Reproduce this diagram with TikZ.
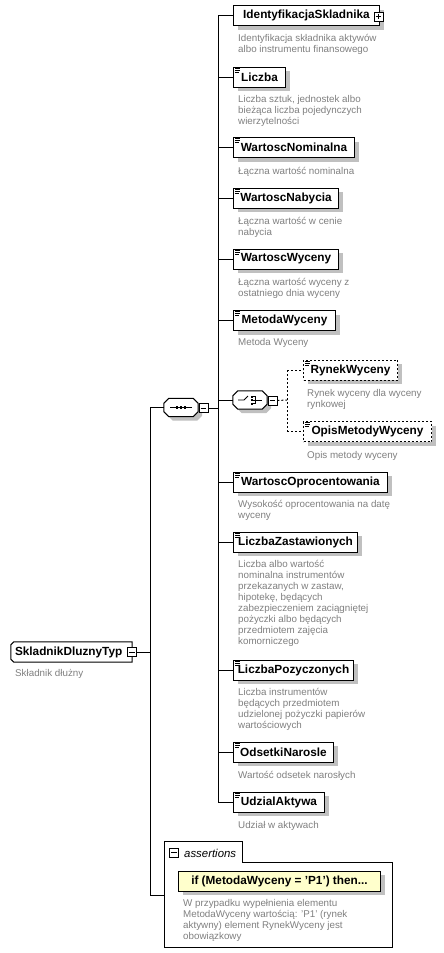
\documentclass[tikz,border=0pt]{standalone}
\usepackage{fontspec}
\setmainfont{Liberation Sans}
\usetikzlibrary{shadows,calc}
\definecolor{descgray}{RGB}{128,128,128}
\definecolor{shadowgray}{RGB}{192,192,192}
\definecolor{asyellow}{RGB}{255,255,204}
\tikzset{
  shad/.style={drop shadow={shadow xshift=4pt, shadow yshift=-4pt, fill=shadowgray, opacity=1}},
  elem/.style={draw, line width=1pt, fill=white, minimum height=20pt, inner sep=0pt, anchor=west,
    font=\fontsize{11.8}{13}\selectfont\bfseries, shad},
  optelem/.style={elem, dash pattern=on 2pt off 2pt},
  rootn/.style={minimum height=20pt, inner xsep=4pt, inner ysep=0pt, text width=113pt, align=left,
    font=\fontsize{11.8}{13}\selectfont\bfseries},
  desc/.style={anchor=north west, inner sep=0pt, align=left, text=descgray, font=\fontsize{9.8}{11}\selectfont},
  pmbox/.style={draw, line width=0.8pt, fill=white, minimum size=9pt, inner sep=0pt},
  octn/.style={minimum width=34pt, minimum height=18pt, inner sep=0pt},
  octstyle/.style={draw, line width=1pt, fill=white, shad},
  conn/.style={line width=1pt},
  optconn/.style={line width=1pt, dash pattern=on 2pt off 2pt},
  pmline/.style={line width=0.8pt},
  iconline/.style={line width=0.7pt},
}
\newcommand\elemicon[1]{%
  \draw[iconline] ([shift={(2,1.8)}]#1.north west) -- ++(5,0);
  \draw[iconline] ([shift={(2,3.6)}]#1.north west) -- ++(5,0);
  \draw[iconline] ([shift={(2,5.4)}]#1.north west) -- ++(4,0);}
\newcommand\octpath[2]{%
  \path[octstyle] ([xshift=#2]#1.north west) -- ([xshift=-#2]#1.north east) -- ([yshift=-#2]#1.north east)
    -- ([yshift=#2]#1.south east) -- ([xshift=-#2]#1.south east) -- ([xshift=#2]#1.south west)
    -- ([yshift=#2]#1.south west) -- ([yshift=-#2]#1.north west) -- cycle;}
\newcommand\minusin[1]{\draw[pmline] ([xshift=2pt]#1.west) -- ([xshift=-2pt]#1.east);}
\begin{document}
\begin{tikzpicture}[x=1pt,y=-1pt]
\fill[white] (0,0) rectangle (444,953);
\useasboundingbox (0,0) rectangle (444,953);

% root
\node[rootn] (sdt) at (71.5,652) {SkladnikDluznyTyp};
\draw[line width=1pt] ([xshift=3pt]sdt.north west) -- (sdt.north east) -- (sdt.south east)
  -- ([xshift=3pt]sdt.south west) -- ([yshift=3pt]sdt.south west) -- ([yshift=-3pt]sdt.north west) -- cycle;
\node[pmbox] (sdtm) at (132,652) {};
\minusin{sdtm}
\node[desc] (sdtd) at (15,669) {Składnik dłużny};

% sequence
\node[octn] (seq) at (181,407.5) {};
\octpath{seq}{5pt}
\draw[line width=1pt] ([xshift=-11pt]seq.center) -- ([xshift=11pt]seq.center);
\fill ([shift={(-5.25,-1.25)}]seq.center) rectangle +(2.5,2.5);
\fill ([shift={(-1.25,-1.25)}]seq.center) rectangle +(2.5,2.5);
\fill ([shift={(2.75,-1.25)}]seq.center) rectangle +(2.5,2.5);
\node[pmbox] (seqm) at (203.5,408) {};
\minusin{seqm}

% elements
\node[elem, minimum width=146pt] (id) at (233,15.5) {IdentyfikacjaSkladnika};
\node[pmbox] (idp) at (378.5,16.5) {};
\draw[pmline] ([xshift=2pt]idp.west) -- ([xshift=-2pt]idp.east);
\draw[pmline] ([yshift=-2pt]idp.north) -- ([yshift=2pt]idp.south);
\node[desc] (idd) at (238,34) {Identyfikacja składnika aktywów\\albo instrumentu finansowego};

\node[elem, minimum width=52pt] (li) at (233,77) {Liczba};
\elemicon{li}
\node[desc] (lid) at (238,95) {Liczba sztuk, jednostek albo\\bieżąca liczba pojedynczych\\wierzytelności};

\node[elem, minimum width=121pt] (wn) at (233,147.5) {WartoscNominalna};
\elemicon{wn}
\node[desc] (wnd) at (238,167) {Łączna wartość nominalna};

\node[elem, minimum width=105pt] (wnab) at (233,198) {WartoscNabycia};
\elemicon{wnab}
\node[desc] (wnabd) at (238,217) {Łączna wartość w cenie\\nabycia};

\node[elem, minimum width=105pt] (ww) at (233,259) {WartoscWyceny};
\elemicon{ww}
\node[desc] (wwd) at (238,278) {Łączna wartość wyceny z\\ostatniego dnia wyceny};

\node[elem, minimum width=102pt] (mw) at (233,320.5) {MetodaWyceny};
\elemicon{mw}
\node[desc] (mwd) at (238,338) {Metoda Wyceny};

% choice
\node[octn] (cho) at (250,400) {};
\octpath{cho}{5pt}
\draw[line width=0.9pt] ([xshift=-12pt]cho.center) -- ([xshift=-6pt]cho.center) -- ([shift={(-2,-4)}]cho.center);
\fill ([shift={(0.5,-4.5)}]cho.center) rectangle +(2,2);
\fill ([shift={(0.5,-1)}]cho.center) rectangle +(2,2);
\fill ([shift={(0.5,2.5)}]cho.center) rectangle +(2,2);
\draw[line width=0.8pt] ([shift={(2.5,-3.5)}]cho.center) -- ++(3,0) -- ++(0,7) -- ++(-3,0);
\draw[line width=0.9pt] ([shift={(2.5,0)}]cho.center) -- ++(9.5,0);
\node[pmbox] (chom) at (272.5,400.5) {};
\minusin{chom}

\node[optelem, minimum width=94pt] (rw) at (303,370) {RynekWyceny};
\elemicon{rw}
\node[desc] (rwd) at (307,389) {Rynek wyceny dla wyceny\\rynkowej};

\node[optelem, minimum width=128pt] (omw) at (303,431.5) {OpisMetodyWyceny};
\elemicon{omw}
\node[desc] (omwd) at (307,451) {Opis metody wyceny};

\node[elem, minimum width=154pt] (wo) at (233,482) {WartoscOprocentowania};
\elemicon{wo}
\node[desc] (wod) at (238,500) {Wysokość oprocentowania na datę\\wyceny};

\node[elem, minimum width=124pt] (lz) at (233,542) {LiczbaZastawionych};
\elemicon{lz}
\node[desc] (lzd) at (238,560) {Liczba albo wartość\\nominalna instrumentów\\przekazanych w zastaw,\\hipotekę, będących\\zabezpieczeniem zaciągniętej\\pożyczki albo będących\\przedmiotem zajęcia\\komorniczego};

\node[elem, minimum width=120pt] (lp) at (233,670) {LiczbaPozyczonych};
\elemicon{lp}
\node[desc] (lpd) at (238,688) {Liczba instrumentów\\będących przedmiotem\\udzielonej pożyczki papierów\\wartościowych};

\node[elem, minimum width=100pt] (on) at (233,752) {OdsetkiNarosle};
\elemicon{on}
\node[desc] (ond) at (238,771) {Wartość odsetek narosłych};

\node[elem, minimum width=91pt] (ua) at (233,802) {UdzialAktywa};
\elemicon{ua}
\node[desc] (uad) at (238,821) {Udział w aktywach};

% assertions
\node[minimum width=78pt, minimum height=20pt, inner sep=0pt, anchor=south west] (tab) at (164,862) {};
\node[minimum width=228pt, minimum height=85pt, inner sep=0pt, anchor=north west] (asr) at (164,862) {};
\draw[line width=1pt, fill=white] (asr.south west) -- (tab.north west) -- (tab.north east) -- (tab.south east)
  -- (asr.north east) -- (asr.south east) -- cycle;
\node[pmbox] (asm) at (174,852.5) {};
\minusin{asm}
\node[anchor=west, inner sep=0pt, font=\fontsize{11.4}{13}\selectfont\itshape] (ast) at (184,853) {assertions};
\node[elem, fill=asyellow, minimum width=202pt] (ifn) at (178,881) {if (MetodaWyceny = 'P1') then...};
\node[desc] (ifd) at (183,899) {W przypadku wypełnienia elementu\\MetodaWyceny wartością: 'P1' (rynek\\aktywny) element RynekWyceny jest\\obowiązkowy};

% connectors
\coordinate (bus) at (218,408);
\coordinate (lv) at (150,408);
\coordinate (asin) at (164,895);
\coordinate (dv) at (287,400);
\draw[conn] (sdtm.east) -- (sdtm.east -| lv);
\draw[conn] (seq.west) -- (seq.west -| lv) -- (lv |- asin) -- (asin);
\draw[conn] (seqm.east) -- (seqm.east -| bus);
\draw[conn] (id.west -| bus) -- (ua.west -| bus);
\foreach \n in {id,li,wn,wnab,ww,mw,cho,wo,lz,lp,on,ua} {\draw[conn] (\n.west -| bus) -- (\n.west);}
\draw[optconn] (chom.east) -- (dv);
\draw[optconn] (rw.west -| dv) -- (omw.west -| dv);
\draw[optconn] (rw.west -| dv) -- (rw.west);
\draw[optconn] (omw.west -| dv) -- (omw.west);
\end{tikzpicture}
\end{document}
